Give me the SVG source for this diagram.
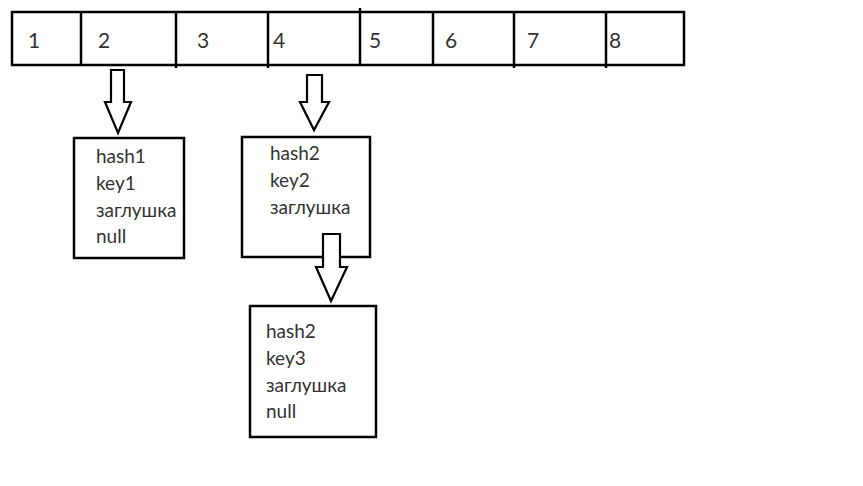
<svg xmlns="http://www.w3.org/2000/svg" width="863" height="486" viewBox="0 0 863 486">
<style>
.ln{fill:none;stroke:#000;stroke-width:2.5}
.box{fill:#fff;stroke:#000;stroke-width:2.5}
.arr{fill:#fff;stroke:#000;stroke-width:2.2;stroke-linejoin:miter}
.t{font-family:Lato,"Open Sans","Noto Sans",sans-serif;font-size:19px;fill:#333}
.n{font-family:Lato,"Open Sans","Noto Sans",sans-serif;font-size:21px;fill:#333}
</style>
<rect width="863" height="486" fill="#fff"/>
<g id="array">
<rect class="box" x="12" y="12" width="672" height="53"/>
<line class="ln" x1="81" y1="12" x2="81" y2="65"/>
<line class="ln" x1="176" y1="12" x2="176" y2="68"/>
<line class="ln" x1="268" y1="12" x2="268" y2="68"/>
<line class="ln" x1="360" y1="8" x2="360" y2="65"/>
<line class="ln" x1="433" y1="12" x2="433" y2="65"/>
<line class="ln" x1="514" y1="12" x2="514" y2="68"/>
<line class="ln" x1="606" y1="12" x2="606" y2="68"/>
<text class="n" x="28" y="48">1</text>
<text class="n" x="98" y="48">2</text>
<text class="n" x="197" y="48">3</text>
<text class="n" x="273" y="48">4</text>
<text class="n" x="369" y="48">5</text>
<text class="n" x="445" y="48">6</text>
<text class="n" x="527" y="48">7</text>
<text class="n" x="609" y="48">8</text>
</g>
<g id="node1">
<rect class="box" x="74" y="138" width="110" height="120"/>
<text class="t" x="96" y="163">hash1</text>
<text class="t" x="96" y="190">key1</text>
<text class="t" x="96" y="217">заглушка</text>
<text class="t" x="96" y="243">null</text>
</g>
<g id="node2">
<rect class="box" x="242" y="137" width="128" height="120"/>
<text class="t" x="270" y="160">hash2</text>
<text class="t" x="270" y="187">key2</text>
<text class="t" x="270" y="214">заглушка</text>
</g>
<g id="node3">
<rect class="box" x="250" y="306" width="126" height="131"/>
<text class="t" x="266" y="338">hash2</text>
<text class="t" x="266" y="365">key3</text>
<text class="t" x="266" y="392">заглушка</text>
<text class="t" x="266" y="418">null</text>
</g>
<g id="connectors">
<path class="arr" d="M111,70 H124 V102 H131 L118,133 L105,102 H111 Z"/>
<path class="arr" d="M307,75 H322 V102 H329 L314,130 L300,102 H307 Z"/>
<path class="arr" d="M323,234 H340 V267 H347 L331,301 L316,267 H323 Z"/>
</g>
</svg>
